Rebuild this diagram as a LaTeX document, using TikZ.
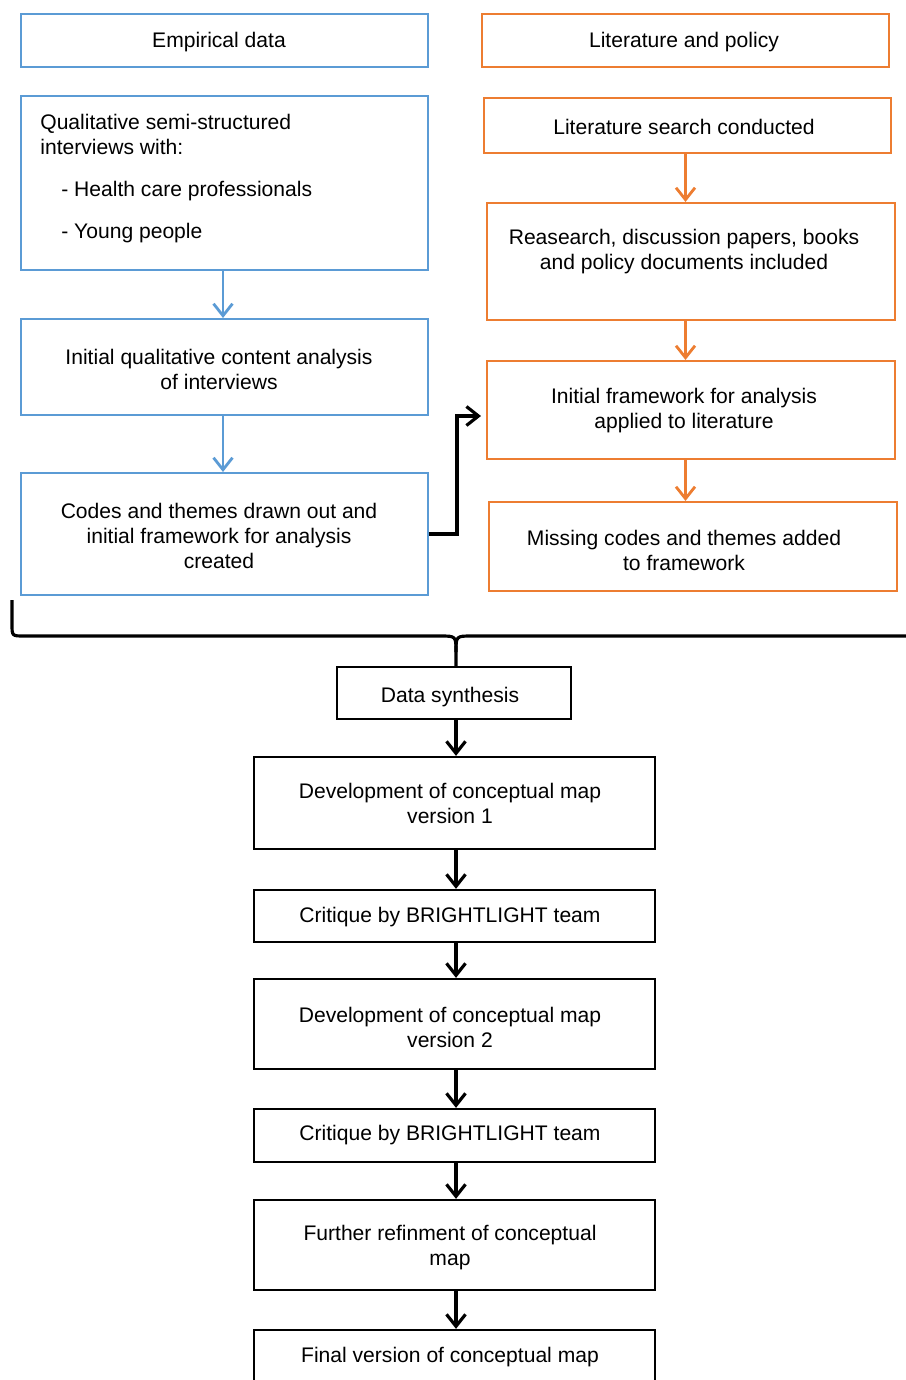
\documentclass[tikz,border=0pt]{standalone}
\usepackage{fontspec}
\setmainfont{Liberation Sans}
\usepackage{xcolor}
\usetikzlibrary{positioning,arrows.meta}
\definecolor{empblue}{RGB}{91,155,213}
\definecolor{litorange}{RGB}{237,125,49}

\begin{document}
\begin{tikzpicture}[x=0.02cm,y=-0.02cm,
		every node/.style={font=\fontsize{12}{14.2}\selectfont, align=center},
		bluebox/.style={draw=empblue, line width=1.2pt, minimum width=8.14cm},
		orangebox/.style={draw=litorange, line width=1.2pt, minimum width=8.16cm},
		blackbox/.style={draw=black, line width=1.3pt, minimum width=8.02cm},
		barb/.style={-{Straight Barb[length=2.4mm,width=3.8mm]}, line width=1.6pt},
		bluearr/.style={barb, draw=empblue},
		orangearr/.style={barb, draw=litorange},
		blackarr/.style={barb, draw=black, line width=1.8pt}]
			\clip (0,0) rectangle (906,1380);
			
			% empirical data
			\node[bluebox, minimum height=1.06cm](emp) at (224.5,40.5) {};
			\node(emptext) at (219,42) {Empirical data};
			\node[bluebox, minimum height=3.48cm](qual) at (224.5,183) {};
			\node[anchor=north west, inner sep=0pt, align=left](qualtext) at (40,114)
				{Qualitative semi-structured\\ interviews with:\\[0.34cm]
				\hspace*{0.42cm}- Health care professionals\\[0.34cm]
				\hspace*{0.42cm}- Young people};
			\node[bluebox, minimum height=1.92cm](init) at (224.5,367) {};
			\node(inittext) at (219,369) {Initial qualitative content analysis\\ of interviews};
			\node[bluebox, minimum height=2.44cm](codes) at (224.5,534) {};
			\node(codestext) at (219,536) {Codes and themes drawn out and\\ initial framework for analysis\\ created};
			
			% literature and policy
			\node[orangebox, minimum width=8.14cm, minimum height=1.06cm](lit) at (685.5,40.5) {};
			\node(littext) at (684,42) {Literature and policy};
			\node[orangebox, minimum width=8.14cm, minimum height=1.10cm](search) at (687.5,125.5) {};
			\node(searchtext) at (684,127) {Literature search conducted};
			\node[orangebox, minimum height=2.34cm](research) at (691,261.5) {};
			\node(researchtext) at (684,252) {Reasearch, discussion papers, books\\ and policy documents included};
			\node[orangebox, minimum height=1.96cm](frame) at (691,410) {};
			\node(frametext) at (684,411) {Initial framework for analysis\\ applied to literature};
			\node[orangebox, minimum height=1.78cm](missing) at (693,546.5) {};
			\node(missingtext) at (684,550) {Missing codes and themes added\\ to framework};
			
			% synthesis
			\node[blackbox, minimum width=4.68cm, minimum height=1.04cm](synth) at (454,693) {};
			\node(synthtext) at (450,697) {Data synthesis};
			\node[blackbox, minimum height=1.84cm](v1) at (454.5,803) {};
			\node(v1text) at (450,803) {Development of conceptual map\\ version 1};
			\node[blackbox, minimum height=1.04cm](crit1) at (454.5,916) {};
			\node(crit1text) at (450,917) {Critique by BRIGHTLIGHT team};
			\node[blackbox, minimum height=1.80cm](v2) at (454.5,1024) {};
			\node(v2text) at (450,1027) {Development of conceptual map\\ version 2};
			\node[blackbox, minimum height=1.06cm](crit2) at (454.5,1135.5) {};
			\node(crit2text) at (450,1135) {Critique by BRIGHTLIGHT team};
			\node[blackbox, minimum height=1.80cm](refine) at (454.5,1245) {};
			\node(refinetext) at (450,1248) {Further refinment of conceptual\\ map};
			\node[blackbox, minimum height=1.04cm](final) at (454.5,1356) {};
			\node(finaltext) at (450,1357) {Final version of conceptual map};
			
			\draw[bluearr] (qual.south -| 223,0) -- (init.north -| 223,0);
			\draw[bluearr] (init.south -| 223,0) -- (codes.north -| 223,0);
			
			\draw[orangearr] (search.south -| lit.south) -- (research.north -| lit.south);
			\draw[orangearr] (research.south -| lit.south) -- (frame.north -| lit.south);
			\draw[orangearr] (frame.south -| lit.south) -- (missing.north -| lit.south);
			
			\draw[blackarr] (codes.east) -- ++(28,0) |- ([xshift=-0.1cm,yshift=-0.12cm]frame.west);
			
			% brace
			\coordinate(bl) at (12,600);
			\coordinate(br) at (906,636);
			\draw[line width=1.8pt] (bl) -- (12,624) .. controls (12,636) .. (24,636) -- (440,636)
				.. controls (456,636) .. (456,652) -- (synth.north -| 456,0);
			\draw[line width=1.8pt] (456,652) .. controls (456,636) .. (472,636) -- (br);
			
			\draw[blackarr] (synth.south -| 456,0) -- (v1.north -| 456,0);
			\draw[blackarr] (v1.south -| 456,0) -- (crit1.north -| 456,0);
			\draw[blackarr] (crit1.south -| 456,0) -- (v2.north -| 456,0);
			\draw[blackarr] (v2.south -| 456,0) -- (crit2.north -| 456,0);
			\draw[blackarr] (crit2.south -| 456,0) -- (refine.north -| 456,0);
			\draw[blackarr] (refine.south -| 456,0) -- (final.north -| 456,0);
		\end{tikzpicture}
\end{document}
